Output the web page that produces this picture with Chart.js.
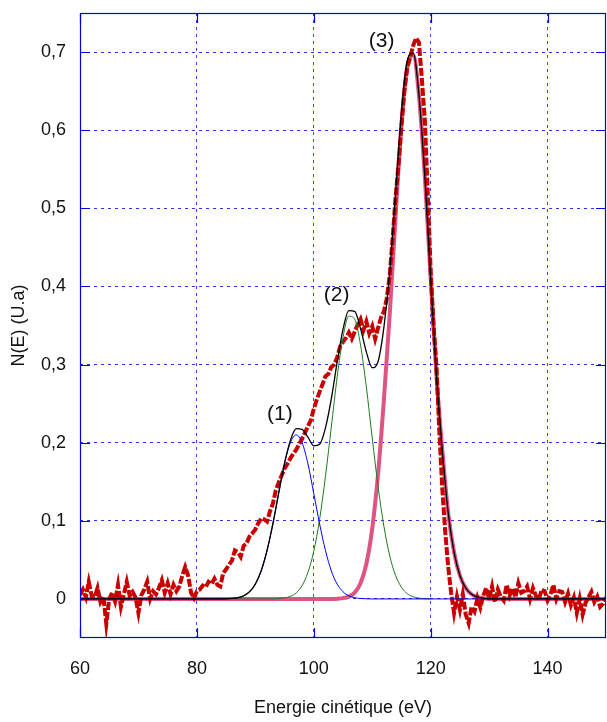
<!DOCTYPE html>
<html>
<head>
<meta charset="utf-8">
<script src="https://cdn.jsdelivr.net/npm/chart.js@4"></script>
<style>
  html, body { margin: 0; padding: 0; background: #fff; }
  canvas { display: block; }
</style>
</head>
<body>
<canvas id="spectre" width="607" height="722"></canvas>
<script>
// measured spectrum (red dashed), energy in eV
const measE = [
  60, 60.5, 61, 61.5, 62, 62.5, 63, 63.5, 64, 64.5, 65, 65.5, 66, 66.5, 67, 67.5, 68, 68.5, 69, 69.5,
  70, 70.5, 71, 71.5, 72, 72.5, 73, 73.5, 74, 74.5, 75, 75.5, 76, 76.5, 77, 77.5, 78, 78.5, 79, 79.5,
  80, 80.5, 81, 81.5, 82, 82.5, 83, 83.5, 84, 84.5, 85, 85.5, 86, 86.5, 87, 87.5, 88, 88.5, 89, 89.5,
  90, 90.5, 91, 91.5, 92, 92.5, 93, 93.5, 94, 94.5, 95, 95.5, 96, 96.5, 97, 97.5, 98, 98.5, 99, 99.5,
  100, 100.5, 101, 101.5, 102, 102.5, 103, 103.5, 104, 104.5, 105, 105.5, 106, 106.5, 107, 107.5, 108, 108.5, 109, 109.5,
  110, 110.5, 111, 111.5, 112, 112.5, 113, 113.5, 114, 114.5, 115, 115.5, 116, 116.5, 117, 117.5, 118, 118.5, 119, 119.5,
  120, 120.5, 121, 121.5, 122, 122.5, 123, 123.5, 124, 124.5, 125, 125.5, 126, 126.5, 127, 127.5, 128, 128.5, 129, 129.5,
  130, 130.5, 131, 131.5, 132, 132.5, 133, 133.5, 134, 134.5, 135, 135.5, 136, 136.5, 137, 137.5, 138, 138.5, 139, 139.5,
  140, 140.5, 141, 141.5, 142, 142.5, 143, 143.5, 144, 144.5, 145, 145.5, 146, 146.5, 147, 147.5, 148, 148.5, 149, 149.5,
  150
];
const measN = [
  0.005, 0.012, 0.002, 0.022, 0.004, 0.002, 0.014, -0.004, 0.003, -0.032, 0.000, 0.008, -0.003, 0.018, -0.010, 0.006, 0.022, 0.004, 0.009, 0.002,
  -0.018, 0.005, 0.012, 0.022, 0.000, 0.010, 0.006, 0.014, 0.024, 0.008, 0.020, 0.006, 0.018, 0.010, 0.016, 0.030, 0.041, 0.030, 0.008, 0.001,
  0.010, 0.012, 0.017, 0.015, 0.022, 0.019, 0.026, 0.018, 0.016, 0.033, 0.038, 0.044, 0.049, 0.062, 0.060, 0.054, 0.068, 0.071, 0.080, 0.084,
  0.089, 0.097, 0.103, 0.102, 0.099, 0.112, 0.122, 0.139, 0.149, 0.158, 0.167, 0.173, 0.180, 0.186, 0.191, 0.198, 0.205, 0.213, 0.221, 0.229,
  0.243, 0.255, 0.265, 0.275, 0.285, 0.288, 0.297, 0.300, 0.309, 0.323, 0.329, 0.334, 0.341, 0.333, 0.342, 0.351, 0.358, 0.344, 0.355, 0.340,
  0.349, 0.333, 0.347, 0.360, 0.368, 0.385, 0.415, 0.462, 0.515, 0.556, 0.605, 0.650, 0.680, 0.693, 0.708, 0.718, 0.712, 0.665, 0.613, 0.520,
  0.420, 0.350, 0.297, 0.212, 0.140, 0.085, 0.041, 0.008, -0.018, 0.003, -0.014, 0.006, -0.020, -0.031, -0.010, -0.016, 0.001, -0.011, 0.004, 0.014,
  0.000, 0.016, -0.004, 0.012, 0.003, -0.002, 0.018, 0.004, 0.014, 0.002, 0.020, 0.008, 0.010, 0.016, 0.000, 0.014, 0.004, -0.001, 0.012, 0.010,
  -0.002, 0.006, 0.018, 0.000, 0.010, 0.009, -0.004, 0.007, -0.008, 0.002, -0.018, 0.000, -0.020, -0.005, 0.002, 0.009, -0.004, 0.003, -0.010, -0.006,
  0.002
];

// fitted components, sampled every 1 eV between 80 and 130
const fitE = [
  60, 80, 81, 82, 83, 84, 85, 86, 87, 88, 89, 90, 91, 92, 93, 94, 95, 96, 97, 98, 99,
  100, 101, 102, 103, 104, 105, 106, 107, 108, 109, 110, 111, 112, 113, 114, 115, 116, 117, 118, 119,
  120, 121, 122, 123, 124, 125, 126, 127, 128, 129, 130, 150
];
const peak1 = [
  0, 0, 0, 0, 0, 0, 0.0002, 0.0006, 0.0016, 0.004, 0.0092, 0.019, 0.036, 0.062, 0.096, 0.135, 0.173, 0.200, 0.210, 0.200, 0.173,
  0.135, 0.096, 0.062, 0.036, 0.019, 0.0092, 0.004, 0.0016, 0.0006, 0.0002, 0, 0, 0, 0, 0, 0, 0, 0, 0, 0,
  0, 0, 0, 0, 0, 0, 0, 0, 0, 0, 0, 0
];
const peak2 = [
  null, 0, 0, 0, 0, 0, 0, 0, 0, 0, 0, 0, 0, 0, 0, 0.0005, 0.0013, 0.0033, 0.0079, 0.017, 0.034,
  0.061, 0.102, 0.157, 0.220, 0.284, 0.335, 0.362, 0.358, 0.325, 0.271, 0.206, 0.144, 0.093, 0.055, 0.030, 0.015, 0.0067, 0.0028, 0.0011, 0.0004,
  0, null, null, null, null, null, null, null, null, null, null, null
];
const peak3 = [
  0, 0, 0, 0, 0, 0, 0, 0, 0, 0, 0, 0, 0, 0, 0, 0, 0, 0, 0, 0, 0,
  0, 0, 0, 0, 0.0003, 0.001, 0.003, 0.008, 0.020, 0.045, 0.090, 0.160, 0.255, 0.365, 0.490, 0.607, 0.682, 0.696, 0.644, 0.540,
  0.411, 0.285, 0.190, 0.110, 0.060, 0.030, 0.014, 0.006, 0.0025, 0.001, 0, 0
];
const fitSum = [
  0, 0, 0, 0, 0, 0.0001, 0.0002, 0.0006, 0.0016, 0.004, 0.0092, 0.019, 0.036, 0.062, 0.096, 0.136, 0.174, 0.203, 0.218, 0.217, 0.207,
  0.196, 0.198, 0.219, 0.256, 0.303, 0.345, 0.369, 0.368, 0.346, 0.316, 0.296, 0.304, 0.348, 0.420, 0.520, 0.622, 0.689, 0.699, 0.645, 0.540,
  0.411, 0.285, 0.190, 0.110, 0.060, 0.030, 0.014, 0.006, 0.0025, 0.001, 0, 0
];

const xTicks = [60, 80, 100, 120, 140];
const yTicks = [0, 0.1, 0.2, 0.3, 0.4, 0.5, 0.6, 0.7];

const peakNames = ['(1)', '(2)', '(3)'];
const peakNameE = [94.2, 103.9, 111.6];
const peakNameN = [0.236, 0.389, 0.714];

const FONT = "'Liberation Sans', Arial, Helvetica, sans-serif";
const BLUE = '#0000e6';

function pts(xs, ys) {
  return xs.map((x, i) => ({ x: x, y: ys[i] }));
}

// frame, inward tick marks and peak names
const decor = {
  id: 'decor',
  afterDraw(chart) {
    const ctx = chart.ctx;
    const a = chart.chartArea;
    const xs = chart.scales.x, ys = chart.scales.y;
    ctx.save();
    ctx.strokeStyle = BLUE;
    ctx.lineWidth = 1.2;
    ctx.strokeRect(a.left + 0.5, a.top + 0.5, a.right - a.left - 1, a.bottom - a.top - 1);
    ctx.beginPath();
    yTicks.forEach(v => {
      const py = Math.round(ys.getPixelForValue(v)) + 0.5;
      ctx.moveTo(a.left, py); ctx.lineTo(a.left + 10, py);
      ctx.moveTo(a.right, py); ctx.lineTo(a.right - 10, py);
    });
    xTicks.forEach(v => {
      const px = Math.round(xs.getPixelForValue(v)) + 0.5;
      ctx.moveTo(px, a.bottom); ctx.lineTo(px, a.bottom - 10);
      ctx.moveTo(px, a.top); ctx.lineTo(px, a.top + 10);
    });
    ctx.stroke();

    ctx.fillStyle = '#111';
    ctx.font = '21px ' + FONT;
    ctx.textAlign = 'center';
    ctx.textBaseline = 'middle';
    peakNames.forEach((t, i) => {
      ctx.fillText(t, xs.getPixelForValue(peakNameE[i]), ys.getPixelForValue(peakNameN[i]));
    });
    ctx.restore();
  }
};

const ctx = document.getElementById('spectre').getContext('2d');
new Chart(ctx, {
  type: 'scatter',
  data: {
    datasets: [
      { label: 'somme', data: pts(fitE, fitSum), borderColor: '#000000', borderWidth: 1.3, showLine: true, pointRadius: 0, cubicInterpolationMode: 'monotone' },
      { label: 'pic 1', data: pts(fitE, peak1), borderColor: '#0000ff', borderWidth: 1, showLine: true, pointRadius: 0, cubicInterpolationMode: 'monotone' },
      { label: 'pic 2', data: pts(fitE, peak2), borderColor: '#1e7a1e', borderWidth: 1, showLine: true, pointRadius: 0, spanGaps: false, cubicInterpolationMode: 'monotone' },
      { label: 'mesure', data: pts(measE, measN), borderColor: '#c80000', borderWidth: 4, borderDash: [8, 2], showLine: true, pointRadius: 0, tension: 0 },
      { label: 'pic 3', data: pts(fitE, peak3), borderColor: '#de5583', borderWidth: 4, showLine: true, pointRadius: 0, cubicInterpolationMode: 'monotone' }
    ]
  },
  options: {
    responsive: false,
    animation: false,
    layout: { padding: { top: 13, right: 1, left: 0, bottom: 0 } },
    plugins: { legend: { display: false }, tooltip: { enabled: false } },
    scales: {
      x: {
        type: 'linear',
        min: 60,
        max: 150,
        afterBuildTicks: s => { s.ticks = xTicks.map(v => ({ value: v })); },
        afterFit: s => { s.height = 84; s.paddingLeft = 0; s.paddingRight = 0; },
        grid: { color: 'rgba(0,0,230,0.75)', lineWidth: 1, drawTicks: false },
        border: { display: false, dash: [3, 4] },
        ticks: { padding: 20, color: '#111', font: { family: FONT, size: 18 } },
        title: { display: true, text: 'Energie cinétique (eV)', color: '#111', font: { family: FONT, size: 18 }, padding: { top: 0, bottom: 3 } }
      },
      y: {
        type: 'linear',
        min: -0.05,
        max: 0.75,
        afterBuildTicks: s => { s.ticks = yTicks.map(v => ({ value: v })); },
        afterFit: s => { s.width = 80; s.paddingTop = 0; s.paddingBottom = 0; },
        grid: { color: 'rgba(0,0,230,0.8)', lineWidth: 1, drawTicks: false },
        border: { display: false, dash: [3, 4] },
        ticks: {
          padding: 14,
          color: '#111',
          font: { family: FONT, size: 18 },
          callback: v => v === 0 ? '0' : v.toFixed(1).replace('.', ',')
        },
        title: { display: true, text: 'N(E) (U.a)', color: '#111', font: { family: FONT, size: 18 }, padding: { top: 8, bottom: 0 } }
      }
    }
  },
  plugins: [decor]
});
</script>
</body>
</html>
